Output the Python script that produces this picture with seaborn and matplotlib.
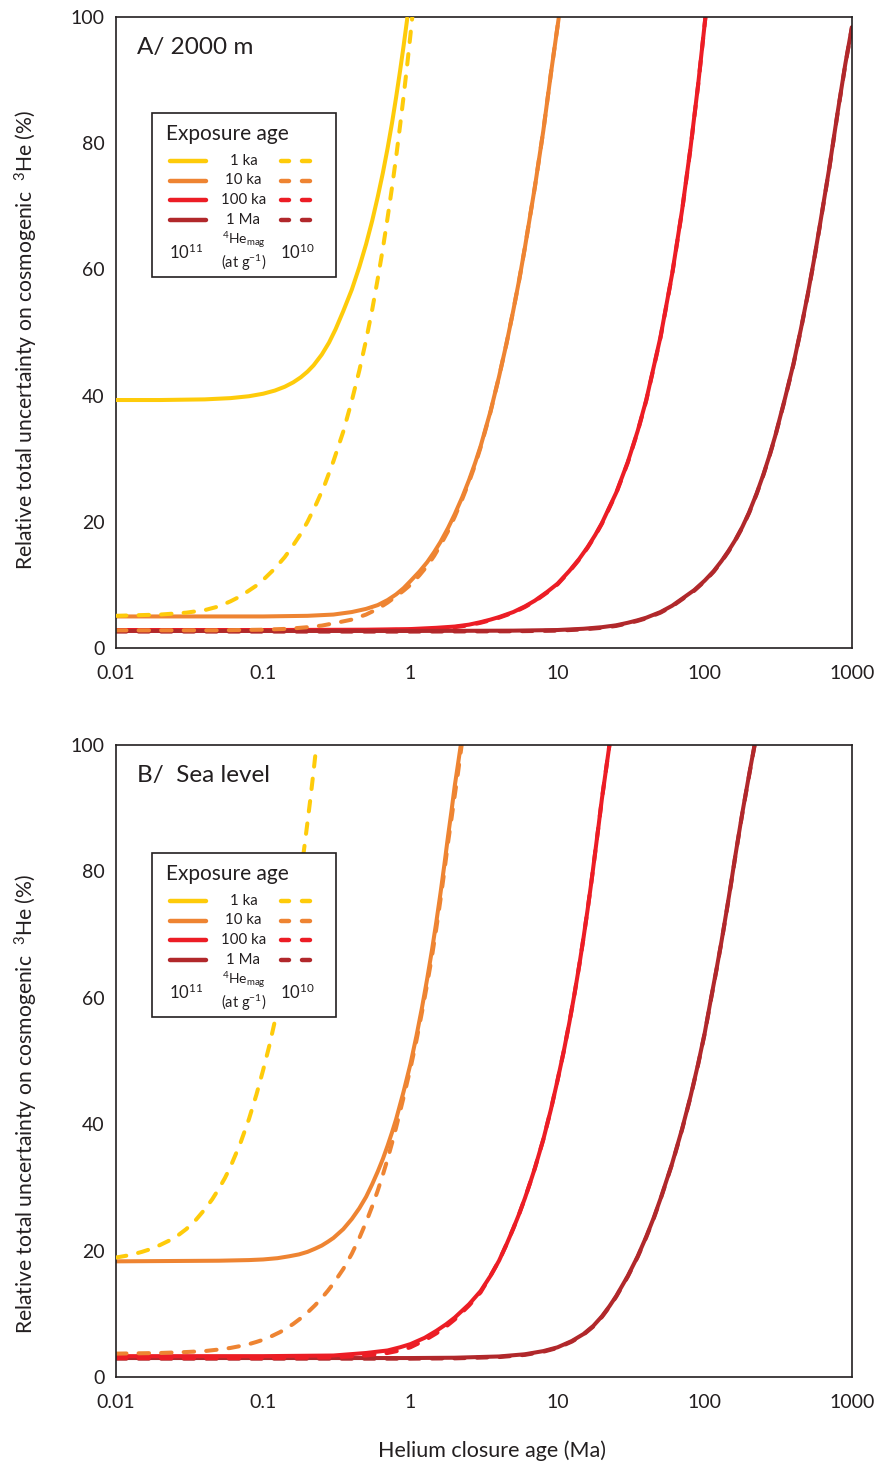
import matplotlib
matplotlib.use("Agg")
import matplotlib.pyplot as plt
from matplotlib.patches import Rectangle
from matplotlib.lines import Line2D
from matplotlib.ticker import NullLocator
import seaborn as sns

# ---------------------------------------------------------------------------
# Relative total uncertainty (%) on cosmogenic 3He versus helium closure age (Ma)
# "_11" = 4He_mag of 1e11 at/g (solid), "_10" = 1e10 at/g (dashed)
# ---------------------------------------------------------------------------

# Panel A: 2000 m
A_1ka_11_age = [0.01, 0.02, 0.04, 0.06, 0.08, 0.1, 0.12, 0.14, 0.16, 0.18, 0.2, 0.22,
                0.25, 0.28, 0.31, 0.35, 0.4, 0.45, 0.5, 0.55, 0.6, 0.65, 0.7, 0.75,
                0.8, 0.85, 0.9, 0.955]
A_1ka_11_unc = [39.3, 39.3, 39.4, 39.6, 39.9, 40.3, 40.8, 41.4, 42.1, 42.9, 43.8, 44.8,
                46.5, 48.4, 50.5, 53.4, 56.8, 60.4, 64.0, 67.7, 71.5, 75.3, 79.2, 83.2,
                87.3, 91.4, 95.5, 100]

A_1ka_10_age = [0.01, 0.02, 0.03, 0.04, 0.05, 0.06, 0.07, 0.08, 0.09, 0.1, 0.12, 0.14,
                0.16, 0.18, 0.2, 0.23, 0.26, 0.3, 0.35, 0.4, 0.45, 0.5, 0.55, 0.6, 0.65,
                0.7, 0.75, 0.8, 0.85, 0.9, 0.95, 1.0, 1.03]
A_1ka_10_unc = [5.1, 5.3, 5.6, 6.0, 6.6, 7.4, 8.2, 9.1, 9.9, 10.8, 12.6, 14.4,
                16.3, 18.1, 20.0, 22.9, 25.7, 29.6, 34.3, 39.2, 44.0, 48.8, 53.6, 58.5, 63.3,
                68.2, 73.0, 77.8, 82.7, 87.5, 92.3, 97.1, 100]

A_10ka_11_age = [0.01, 0.1, 0.2, 0.3, 0.4, 0.5, 0.6, 0.7, 0.8, 0.9, 1.0, 1.15, 1.3,
                 1.45, 1.6, 1.8, 2.0, 2.25, 2.5, 2.75, 3.0, 3.5, 4.0, 4.5, 5.0, 5.5,
                 6.0, 7.0, 8.0, 9.0, 10.2]
A_10ka_11_unc = [5.0, 5.0, 5.1, 5.3, 5.7, 6.2, 6.8, 7.6, 8.5, 9.5, 10.6, 12.1, 13.6,
                 15.2, 16.8, 19.0, 21.2, 23.9, 26.6, 29.3, 32.0, 37.5, 43.0, 48.3, 53.5, 58.5,
                 63.5, 73.0, 82.0, 91.0, 100]

A_10ka_10_age = [0.01, 0.05, 0.1, 0.15, 0.2, 0.25, 0.3, 0.4, 0.5, 0.6, 0.7, 0.8, 0.9,
                 1.0, 1.15, 1.3, 1.45, 1.6, 1.8, 2.0, 2.25, 2.5, 2.75, 3.0, 3.5, 4.0,
                 4.5, 5.0, 5.5, 6.0, 7.0, 8.0, 9.0, 10.2]
A_10ka_10_unc = [2.8, 2.8, 2.9, 3.05, 3.3, 3.55, 3.9, 4.5, 5.3, 6.2, 7.2, 8.2, 9.1,
                 10.0, 11.5, 13.0, 14.6, 16.3, 18.5, 20.8, 23.6, 26.3, 29.0, 31.8, 37.4, 43.0,
                 48.3, 53.5, 58.5, 63.5, 73.0, 82.0, 91.0, 100]

A_100ka_11_age = [0.01, 0.1, 0.5, 1, 1.5, 2, 2.5, 3, 3.5, 4, 5, 6, 7, 8.5, 10, 12, 14,
                  16, 18, 20, 25, 30, 35, 40, 50, 60, 70, 80, 90, 101]
A_100ka_11_unc = [2.85, 2.85, 2.9, 3.0, 3.2, 3.4, 3.7, 4.1, 4.5, 4.9, 5.7, 6.6, 7.5, 8.9,
                  10.2, 12.2, 14.1, 16.0, 17.9, 19.8, 24.6, 29.5, 34.4, 39.3, 49.3, 59.3,
                  69.3, 79.3, 89.2, 100]

A_100ka_10_age = A_100ka_11_age
A_100ka_10_unc = [2.75, 2.75, 2.8, 2.9, 3.1, 3.3, 3.6, 4.0, 4.4, 4.8, 5.6, 6.5, 7.4, 8.8,
                  10.1, 12.1, 14.0, 15.9, 17.8, 19.7, 24.5, 29.4, 34.3, 39.2, 49.2, 59.2,
                  69.2, 79.2, 89.1, 100]

A_1Ma_11_age = [0.01, 1, 5, 10, 15, 20, 25, 30, 35, 40, 50, 60, 70, 85, 100, 115, 130,
                145, 160, 180, 200, 225, 250, 275, 300, 350, 400, 450, 500, 550, 600,
                700, 800, 900, 1000]
A_1Ma_11_unc = [2.7, 2.7, 2.75, 2.85, 3.05, 3.3, 3.6, 4.0, 4.4, 4.8, 5.7, 6.7, 7.8, 9.2,
                10.7, 12.2, 13.8, 15.4, 17.0, 19.2, 21.5, 24.5, 27.5, 30.5, 33.5, 39.5,
                45.0, 50.6, 56.0, 61.3, 66.5, 76.0, 85.0, 92.5, 98.5]

A_1Ma_10_age = A_1Ma_11_age
A_1Ma_10_unc = [2.6, 2.6, 2.65, 2.75, 2.95, 3.2, 3.5, 3.9, 4.3, 4.7, 5.6, 6.6, 7.7, 9.1,
                10.6, 12.1, 13.7, 15.3, 16.9, 19.1, 21.4, 24.4, 27.4, 30.4, 33.4, 39.4,
                44.9, 50.5, 55.9, 61.2, 66.4, 75.9, 84.9, 92.4, 98.4]

# Panel B: sea level
B_1ka_10_age = [0.01, 0.0125, 0.015, 0.0175, 0.02, 0.025, 0.03, 0.035, 0.04, 0.045,
                0.05, 0.055, 0.06, 0.07, 0.08, 0.09, 0.1, 0.11, 0.12, 0.13, 0.14, 0.15,
                0.16, 0.17, 0.18, 0.19, 0.2, 0.21, 0.22, 0.23]
B_1ka_10_unc = [18.9, 19.3, 19.8, 20.3, 20.9, 22.0, 23.4, 24.9, 26.5, 28.1,
                29.8, 31.5, 33.3, 37.0, 40.8, 44.7, 48.6, 52.4, 56.3, 60.1, 64.0, 67.9,
                71.8, 75.7, 79.6, 83.7, 87.8, 91.8, 95.9, 100]

B_10ka_11_age = [0.01, 0.05, 0.08, 0.1, 0.125, 0.15, 0.175, 0.2, 0.225, 0.25, 0.275,
                 0.3, 0.35, 0.4, 0.45, 0.5, 0.55, 0.6, 0.65, 0.7, 0.75, 0.8, 0.9, 1.0,
                 1.1, 1.2, 1.3, 1.4, 1.5, 1.6, 1.7, 1.8, 1.9, 2.0, 2.1, 2.2]
B_10ka_11_unc = [18.3, 18.4, 18.5, 18.6, 18.8, 19.1, 19.4, 19.8, 20.3, 20.8, 21.4,
                 22.0, 23.4, 25.0, 26.7, 28.5, 30.5, 32.5, 34.5, 36.6, 38.7, 40.8, 45.2, 49.5,
                 54.0, 58.5, 63.0, 67.5, 72.0, 76.5, 81.0, 85.5, 89.5, 93.5, 96.8, 100]

B_10ka_10_age = [0.01, 0.02, 0.03, 0.04, 0.05, 0.06, 0.07, 0.08, 0.09, 0.1, 0.115, 0.13,
                 0.145, 0.16, 0.18, 0.2, 0.225, 0.25, 0.275, 0.3, 0.35, 0.4, 0.45, 0.5,
                 0.55, 0.6, 0.65, 0.7, 0.75, 0.8, 0.9, 1.0, 1.1, 1.2, 1.3, 1.4, 1.5, 1.6,
                 1.7, 1.8, 1.9, 2.0, 2.1, 2.23]
B_10ka_10_unc = [3.7, 3.8, 3.95, 4.1, 4.35, 4.6, 4.9, 5.2, 5.55, 5.9, 6.5, 7.1,
                 7.75, 8.4, 9.3, 10.2, 11.35, 12.5, 13.65, 14.8, 17.1, 19.5, 22.0, 24.5,
                 27.0, 29.5, 32.0, 34.5, 37.0, 39.5, 44.3, 48.8, 53.3, 57.8, 62.2, 66.5,
                 71.0, 75.5, 80.0, 84.5, 88.3, 92.0, 95.4, 100]

B_100ka_11_age = [0.01, 0.1, 0.3, 0.5, 0.7, 0.85, 1.0, 1.25, 1.5, 1.75, 2.0, 2.5, 3.0,
                  3.5, 4.0, 4.5, 5.0, 5.5, 6.0, 6.5, 7.0, 8.0, 9.0, 10, 11, 12, 13, 14,
                  15, 16, 17, 18, 19, 20, 21, 22.5]
B_100ka_11_unc = [3.3, 3.3, 3.4, 3.8, 4.2, 4.7, 5.2, 6.2, 7.3, 8.35, 9.4, 11.5, 13.6,
                  16.0, 18.4, 21.0, 23.5, 25.9, 28.3, 30.7, 33.0, 37.6, 42.3, 47.0, 51.5,
                  56.0, 60.5, 65.0, 69.5, 74.0, 78.5, 83.0, 87.3, 91.5, 95.0, 100]

B_100ka_10_age = B_100ka_11_age
B_100ka_10_unc = [3.0, 3.0, 3.1, 3.4, 3.8, 4.2, 4.7, 5.8, 6.9, 8.0, 9.1, 11.3, 13.4,
                  16.0, 18.4, 21.0, 23.5, 25.9, 28.3, 30.7, 33.0, 37.6, 42.3, 47.0, 51.5,
                  56.0, 60.5, 65.0, 69.5, 74.0, 78.5, 83.0, 87.3, 91.5, 95.0, 100]

B_1Ma_11_age = [0.01, 1, 2, 4, 6, 8, 10, 12.5, 15, 17.5, 20, 22.5, 25, 30, 35, 40, 45,
                50, 60, 70, 80, 90, 100, 110, 120, 130, 140, 150, 160, 170, 180, 190,
                200, 210, 218]
B_1Ma_11_unc = [3.0, 3.0, 3.05, 3.25, 3.6, 4.1, 4.7, 5.7, 6.8, 8.1, 9.6, 11.2, 12.8,
                16.0, 19.1, 22.2, 25.2, 28.2, 33.8, 39.2, 44.4, 49.5, 54.5, 59.8, 64.5,
                69.0, 73.5, 77.8, 82.0, 85.8, 89.3, 92.4, 95.3, 98.0, 100]

B_1Ma_10_age = B_1Ma_11_age
B_1Ma_10_unc = [2.9, 2.9, 2.95, 3.15, 3.5, 4.0, 4.6, 5.6, 6.7, 8.0, 9.5, 11.1, 12.7,
                15.9, 19.0, 22.1, 25.1, 28.1, 33.7, 39.1, 44.3, 49.4, 54.4, 59.7, 64.4,
                68.9, 73.4, 77.7, 81.9, 85.7, 89.2, 92.3, 95.2, 97.9, 100]

x_ticks = [0.01, 0.1, 1, 10, 100, 1000]
x_tick_labels = ["0.01", "0.1", "1", "10", "100", "1000"]
y_ticks = [0, 20, 40, 60, 80, 100]

exposure_labels = ["1 ka", "10 ka", "100 ka", "1 Ma"]
colors = {"1 ka": "#FECB0A", "10 ka": "#EE8432", "100 ka": "#EC1D25", "1 Ma": "#B1282B"}
INK = "#231F20"

sns.set_theme(style="white")
plt.rcParams["font.family"] = ["Lato", "DejaVu Sans"]
plt.rcParams["mathtext.fontset"] = "custom"
plt.rcParams["mathtext.rm"] = "Lato"
plt.rcParams["mathtext.it"] = "Lato:italic"
plt.rcParams["mathtext.bf"] = "Lato:bold"
plt.rcParams["text.color"] = INK

W, H = 882, 1463
fig = plt.figure(figsize=(W / 100, H / 100), dpi=100)
fig.patch.set_facecolor("white")

axA = fig.add_axes([116 / W, 1 - 648 / H, 736 / W, 631 / H])
axB = fig.add_axes([116 / W, 1 - 1377 / H, 736 / W, 632 / H])


def draw_curve(ax, age, unc, exposure, dashed, z):
    sns.lineplot(x=age, y=unc, ax=ax, color=colors[exposure], linewidth=2.9,
                 estimator=None, sort=False, zorder=z)
    line = ax.lines[-1]
    line.set_solid_joinstyle("round")
    if dashed:
        line.set_dashes((2.6, 3.0))
        line.set_dash_capstyle("round")
        line.set_dash_joinstyle("round")
    else:
        line.set_solid_capstyle("butt")


# drawing order: later entries sit on top
panelA_curves = [
    (A_100ka_11_age, A_100ka_11_unc, "100 ka", False),
    (A_100ka_10_age, A_100ka_10_unc, "100 ka", True),
    (A_1Ma_11_age, A_1Ma_11_unc, "1 Ma", False),
    (A_1Ma_10_age, A_1Ma_10_unc, "1 Ma", True),
    (A_10ka_11_age, A_10ka_11_unc, "10 ka", False),
    (A_10ka_10_age, A_10ka_10_unc, "10 ka", True),
    (A_1ka_11_age, A_1ka_11_unc, "1 ka", False),
    (A_1ka_10_age, A_1ka_10_unc, "1 ka", True),
]
panelB_curves = [
    (B_1Ma_11_age, B_1Ma_11_unc, "1 Ma", False),
    (B_1Ma_10_age, B_1Ma_10_unc, "1 Ma", True),
    (B_100ka_11_age, B_100ka_11_unc, "100 ka", False),
    (B_100ka_10_age, B_100ka_10_unc, "100 ka", True),
    (B_10ka_11_age, B_10ka_11_unc, "10 ka", False),
    (B_10ka_10_age, B_10ka_10_unc, "10 ka", True),
    (B_1ka_10_age, B_1ka_10_unc, "1 ka", True),
]

for ax, curves in ((axA, panelA_curves), (axB, panelB_curves)):
    for i, (age, unc, expo, dashed) in enumerate(curves):
        draw_curve(ax, age, unc, expo, dashed, 2 + i * 0.1)


ylabel = "Relative total uncertainty on cosmogenic  $^{3}$He (%)"
for ax, title, ylab_y in ((axA, "A/ 2000 m", 0.488), (axB, "B/  Sea level", 0.432)):
    ax.set_xscale("log")
    ax.set_xlim(0.01, 1000)
    ax.set_ylim(0, 100)
    ax.set_xticks(x_ticks)
    ax.set_xticklabels(x_tick_labels)
    ax.xaxis.set_minor_locator(NullLocator())
    ax.set_yticks(y_ticks)
    ax.set_yticklabels([str(v) for v in y_ticks])
    ax.tick_params(axis="both", direction="in", length=4.3, width=1.0, color=INK,
                   labelsize=14, labelcolor=INK, top=False, right=False)
    ax.tick_params(axis="x", pad=12)
    ax.tick_params(axis="y", pad=8)
    for sp in ax.spines.values():
        sp.set_color(INK)
        sp.set_linewidth(1.2)
        sp.set_visible(True)
    ax.set_xlabel("")
    ax.set_ylabel(ylabel, fontsize=15.2, color=INK)
    ax.yaxis.set_label_coords(-0.103, ylab_y)
    ax.text(0.0285, 0.952, title, transform=ax.transAxes, fontsize=17.5,
            ha="left", va="center", color=INK)

axB.set_xlabel("Helium closure age (Ma)", fontsize=15.5, color=INK)
axB.xaxis.set_label_coords(0.511, -0.1)


def px(x, y):
    """Figure-fraction position from pixel coordinates (origin top-left)."""
    return x / W, 1 - y / H


def draw_key(dy):
    x0, y0 = px(152, 113 + dy)
    x1, y1 = px(336, 277 + dy)
    fig.patches.append(Rectangle((x0, y1), x1 - x0, y0 - y1, transform=fig.transFigure,
                                 facecolor="white", edgecolor=INK, linewidth=1.2,
                                 zorder=20))
    fx, fy = px(166, 134 + dy)
    fig.text(fx, fy, "Exposure age", fontsize=15, ha="left", va="center", zorder=22)
    rows_y = [160.7, 180.5, 200.0, 219.7]
    for lab, ry in zip(exposure_labels, rows_y):
        col = colors[lab]
        for xa, xb in ((170, 206), (281, 289), (302, 310)):
            (ax_, ay_), (bx_, by_) = px(xa, ry + dy), px(xb, ry + dy)
            fig.lines.append(Line2D([ax_, bx_], [ay_, by_], transform=fig.transFigure,
                                    color=col, linewidth=3.2, solid_capstyle="round",
                                    zorder=22))
        tx, ty = px(243.5, ry + dy)
        fig.text(tx, ty, lab, fontsize=10.8, ha="center", va="center", zorder=22)
    tx, ty = px(186, 252 + dy)
    fig.text(tx, ty, "10$^{11}$", fontsize=12, ha="center", va="center", zorder=22)
    tx, ty = px(297, 252 + dy)
    fig.text(tx, ty, "10$^{10}$", fontsize=12, ha="center", va="center", zorder=22)
    # the isotope label sits just above its unit line
    tx, ty = px(244, 251 + dy)
    fig.text(tx, ty, "$^{4}$He$_{\\mathrm{mag}}$", fontsize=10, ha="center",
             va="bottom", zorder=22)
    tx, ty = px(244, 252.5 + dy)
    fig.text(tx, ty, "(at g$^{-1}$)", fontsize=10.5, ha="center", va="top", zorder=22)


draw_key(0)
draw_key(740)

fig.savefig("out.png", dpi=100, facecolor="white")
